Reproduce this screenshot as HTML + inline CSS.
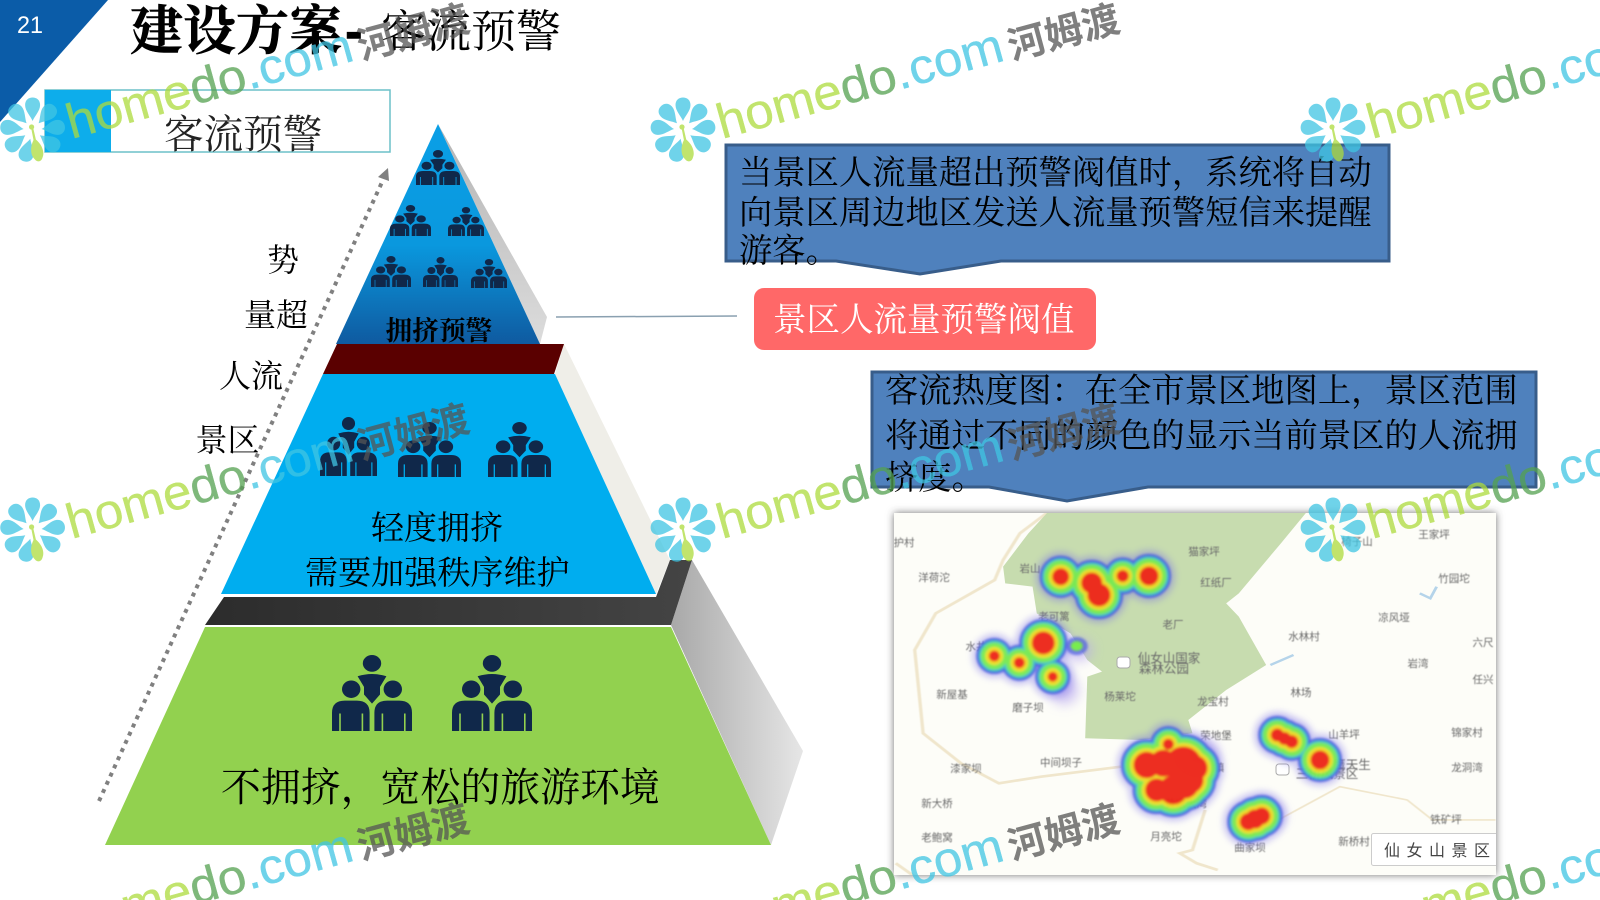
<!DOCTYPE html>
<html lang="zh"><head><meta charset="utf-8"><title>建设方案-客流预警</title>
<style>
html,body{margin:0;padding:0;background:#fff;width:1600px;height:900px;overflow:hidden}
svg{display:block;position:absolute;left:0;top:0}
.s{font-family:"Liberation Serif","Noto Serif CJK SC",serif;fill:#000}
.m{font-family:"Liberation Sans","Noto Sans CJK SC",sans-serif;font-size:10.5px;fill:#6a6a6a;text-anchor:middle}
.b{font-size:12.5px}
</style></head><body>
<svg width="1600" height="900" viewBox="0 0 1600 900" xmlns="http://www.w3.org/2000/svg">
<defs>
<linearGradient id="gTop" x1="0" y1="0" x2="0" y2="1"><stop offset="0" stop-color="#0a9fe6"/><stop offset=".55" stop-color="#0a98de"/><stop offset="1" stop-color="#0f5aa0"/></linearGradient>
<linearGradient id="gSh" x1="0" y1="0" x2="1" y2="0"><stop offset="0" stop-color="#a8a8a8"/><stop offset="1" stop-color="#e6e6e6"/></linearGradient>
<linearGradient id="gSh0" x1="0" y1="0" x2="0" y2="1"><stop offset="0" stop-color="#b4b4b4"/><stop offset="1" stop-color="#dcdcdc"/></linearGradient>
<linearGradient id="gDk" x1="0" y1="0" x2="1" y2="0"><stop offset="0" stop-color="#2c2c2c"/><stop offset="1" stop-color="#444"/></linearGradient>
<filter id="sh" x="-5%" y="-5%" width="110%" height="110%"><feDropShadow dx="0" dy="0" stdDeviation="4" flood-color="#444" flood-opacity=".75"/></filter>
<filter id="bl" x="-20%" y="-20%" width="140%" height="140%"><feGaussianBlur stdDeviation="1.3"/></filter>
<filter id="bl2" x="-20%" y="-20%" width="140%" height="140%"><feGaussianBlur stdDeviation="3.5"/></filter>
<filter id="bl3" x="-50%" y="-50%" width="200%" height="200%"><feGaussianBlur stdDeviation="6"/></filter>
<filter id="tb" x="-5%" y="-5%" width="110%" height="110%"><feGaussianBlur stdDeviation=".45"/></filter>
<filter id="rb" x="-5%" y="-5%" width="110%" height="110%"><feGaussianBlur stdDeviation="1"/></filter>
<symbol id="p" viewBox="0 0 100 100" preserveAspectRatio="none">
<g fill="#10284a">
<ellipse cx="50" cy="11" rx="11.5" ry="11"/>
<path d="M32 28Q50 22 68 28L60 42V52L50 64L40 52V42Z"/>
<ellipse cx="24" cy="45" rx="11.5" ry="11.5"/><ellipse cx="76" cy="45" rx="11.5" ry="11.5"/>
<path d="M0 100V76Q0 60 16 60H31Q47 60 47 76V100H39V77H37V100H11V77H9V100Z"/>
<path d="M53 100V76Q53 60 69 60H84Q100 60 100 76V100H92V77H90V100H64V77H62V100Z"/>
</g></symbol>
<g id="heat">
<circle cx="1060.7" cy="576.7" r="8"/><circle cx="1091.7" cy="583" r="10"/><circle cx="1099" cy="595" r="11"/><circle cx="1122.7" cy="576" r="5.5"/><circle cx="1149" cy="576" r="9"/>
<circle cx="1043.3" cy="643" r="11"/><circle cx="994.3" cy="656" r="5"/><circle cx="1019.3" cy="662.7" r="5"/><circle cx="1052.7" cy="676.7" r="4.5"/>
<circle cx="1168.3" cy="744.3" r="5"/><circle cx="1146.7" cy="765" r="12.7"/><circle cx="1163.3" cy="763.3" r="13"/><circle cx="1183.3" cy="765" r="18"/><circle cx="1195" cy="768" r="12"/><circle cx="1190" cy="780" r="13"/><circle cx="1185" cy="785" r="13"/><circle cx="1173.3" cy="790" r="14"/><circle cx="1156.7" cy="790" r="11"/>
<circle cx="1277.3" cy="735" r="6"/><circle cx="1284.5" cy="738.5" r="6"/><circle cx="1291.7" cy="741.7" r="6"/><circle cx="1320" cy="760" r="9"/>
<circle cx="1248.3" cy="821.7" r="8"/><circle cx="1255" cy="819" r="9"/><circle cx="1261.7" cy="816" r="8"/>
</g>
<g id="fl" opacity=".75">
<g fill="#40c5e3">
<path id="pt" d="M0-9C-2-14-7.5-19-7.5-25C-7.5-30-4-32.5 0-32.5C4-32.5 7.5-30 7.5-25C7.5-19 2-14 0-9Z"/>
<use href="#pt" transform="rotate(42)"/><use href="#pt" transform="rotate(84)"/><use href="#pt" transform="rotate(126)"/>
<use href="#pt" transform="rotate(-42)"/><use href="#pt" transform="rotate(-84)"/><use href="#pt" transform="rotate(-126)"/><use href="#pt" transform="rotate(-165)"/>
</g>
<g transform="rotate(-12)"><path d="M-1-3L1-3L1.2 10C6 16 7.5 24 4 29C2 33-2 33-4 29C-7.5 24-6 16-1.2 10Z" fill="#addb3d"/></g>
<circle cx="-1" cy="-3" r="2.6" fill="#addb3d"/>
</g>
<g id="wt" opacity=".75">
<text transform="translate(39,9) rotate(-15.5)" font-family="Liberation Sans,sans-serif" font-size="49" stroke-width=".4" textLength="295" lengthAdjust="spacingAndGlyphs"><tspan fill="#addb3d" stroke="#addb3d">home</tspan><tspan fill="#54a150" stroke="#54a150">do</tspan><tspan fill="#40c5e3" stroke="#40c5e3">.com</tspan></text>
<text transform="translate(329,-70) rotate(-15)" font-family="Liberation Sans,'Noto Sans CJK SC',sans-serif" font-weight="700" font-size="38" fill="#555">河姆渡</text>
</g>
</defs>

<rect width="1600" height="900" fill="#fff"/>
<polygon points="0,0 108,0 0,122" fill="#0b5ca8"/>
<text x="17" y="33" font-family="Liberation Sans,sans-serif" font-size="24" fill="#fff" textLength="26" lengthAdjust="spacingAndGlyphs">21</text>
<text class="s" x="130" y="49" font-size="53" font-weight="700" stroke="#000" stroke-width=".6">建设方案<tspan font-family="Liberation Sans,sans-serif" dx="3">-</tspan></text>
<text class="s" x="381" y="47" font-size="45">客流预警</text>

<rect x="45" y="90" width="345" height="62" fill="#fff" stroke="#6cc0c8" stroke-width="1.5"/>
<rect x="45" y="90" width="66" height="62" fill="#0dadeb"/>
<text class="s" x="164" y="148" font-size="39.6" style="fill:#222">客流预警</text>

<!-- pyramid shadows -->
<polygon points="438,124 547,317 540,344" fill="url(#gSh0)"/>
<polygon points="564,344 670,560 656,594 555,374" fill="#efeee8"/>
<polygon points="692,560 803,751 771,845 671,625" fill="url(#gSh)"/>
<!-- pyramid -->
<polygon points="438,124 540,344 336,344" fill="url(#gTop)"/>
<polygon points="337,344 564,344 554,374 323,374" fill="#5a0000"/>
<polygon points="323,374 555,374 656,594 221,594" fill="#00adef"/>
<polygon points="224,597 656,597 670,560 692,560 671,625 205,625" fill="url(#gDk)"/>
<polygon points="205,627 671,627 771,845 105,845" fill="#92d14f"/>

<!-- people -->
<use href="#p" x="416" y="150" width="44" height="35"/>
<use href="#p" x="390" y="205" width="41" height="31"/>
<use href="#p" x="448" y="207" width="36" height="29"/>
<use href="#p" x="371" y="256" width="40" height="31"/>
<use href="#p" x="423" y="257" width="35" height="30"/>
<use href="#p" x="471" y="259" width="36" height="29"/>
<use href="#p" x="320" y="417" width="57" height="59"/>
<use href="#p" x="398" y="422" width="63" height="55"/>
<use href="#p" x="488" y="422" width="63" height="55"/>
<use href="#p" x="332" y="655" width="80" height="76"/>
<use href="#p" x="452" y="655" width="80" height="76"/>

<!-- pyramid labels -->
<text class="s" x="385.5" y="340" font-size="26.7" font-weight="700">拥挤预警</text>
<text class="s" x="371" y="539" font-size="33">轻度拥挤</text>
<text class="s" x="305" y="584" font-size="33.1">需要加强秩序维护</text>
<text class="s" x="221" y="801" font-size="39.9">不拥挤，宽松的旅游环境</text>
<text class="s" x="267" y="271" font-size="32">势</text>
<text class="s" x="244" y="326" font-size="32">量超</text>
<text class="s" x="219" y="387" font-size="32">人流</text>
<text class="s" x="195.5" y="451" font-size="32">景区</text>

<!-- trend arrow -->
<line x1="99" y1="801" x2="383" y2="180" stroke="#808080" stroke-width="4" stroke-dasharray="4 5"/>
<polygon points="388,168 389,181 378,177" fill="#808080"/>
<line x1="556" y1="317" x2="737" y2="316" stroke="#8aa0b0" stroke-width="1.5"/>

<!-- callouts -->
<polygon points="726,145 1389,145 1389,261 1001,261 920,274 836,261 726,261" fill="#4f81bd" stroke="#385d8a" stroke-width="3"/>
<text class="s" x="739" y="184" font-size="33.3">当景区人流量超出预警阀值时，系统将自动</text>
<text class="s" x="739" y="224" font-size="33.3">向景区周边地区发送人流量预警短信来提醒</text>
<text class="s" x="739" y="262" font-size="33.3">游客。</text>

<rect x="754" y="288" width="342" height="62" rx="10" fill="#ff6868"/>
<text class="s" x="773" y="331" font-size="33.5" style="fill:#fff">景区人流量预警阀值</text>

<polygon points="872,372 1536,372 1536,487 1148,487 1067,501 989,487 872,487" fill="#4f81bd" stroke="#385d8a" stroke-width="3"/>
<text class="s" x="885" y="402" font-size="33.3">客流热度图：在全市景区地图上，景区范围</text>
<text class="s" x="885" y="447" font-size="33.3">将通过不同的颜色的显示当前景区的人流拥</text>
<text class="s" x="885" y="489" font-size="33.3">挤度。</text>

<!-- map -->
<rect x="894" y="513" width="602" height="362" fill="#fdfdf8" filter="url(#sh)"/>
<svg x="894" y="513" width="602" height="362" viewBox="894 513 602 362">
<g transform="translate(860,500) scale(.4209,.3333)">
<g fill="none" stroke="#f0e6cc" stroke-width="8" filter="url(#rb)">
<path d="M445 38L380 100L340 180L320 240L180 340L130 450L150 700L240 790L330 850L430 830L620 800"/>
<path d="M820 930L790 1050L760 1060L800 1090L850 1110"/>
<path d="M950 990L1140 860L1300 900L1360 960L1510 960" stroke-width="5"/>
<path d="M85 1090L130 1130"/>
</g>
<polygon points="445,38 1060,38 1000,130 900,280 870,310 900,350 965,495 870,570 780,660 790,700 670,720 535,715 540,530 575,515 540,480 500,400 420,340 410,260 345,250 340,200 400,100" fill="#c7dcaf"/>
<g fill="none" stroke="#b5d4ea" stroke-width="7" filter="url(#tb)"><path d="M1330 280L1355 295L1370 260"/><path d="M975 495L1030 465"/></g>
</g>
<g filter="url(#tb)">
<text class="m" x="904" y="546">护村</text><text class="m" x="934" y="581">洋荷沱</text><text class="m" x="1030" y="572">岩山</text>
<text class="m" x="1204" y="555">猫家坪</text><text class="m" x="1216" y="586">红纸厂</text><text class="m" x="1434" y="538">王家坪</text>
<text class="m" x="1357" y="545">椅子山</text><text class="m" x="1454" y="582">竹园坨</text><text class="m" x="1054" y="620">老可篱</text>
<text class="m" x="1173" y="628">老厂</text><text class="m" x="1394" y="621">凉风垭</text><text class="m" x="1304" y="640">水林村</text>
<text class="m" x="1483" y="646">六尺</text><text class="m" x="976" y="650">水井</text>
<text class="m b" x="1169" y="662.5">仙女山国家</text><text class="m b" x="1164" y="673">森林公园</text>
<text class="m" x="1418" y="667">岩湾</text><text class="m" x="1483" y="683">任兴</text><text class="m" x="952" y="698">新屋基</text>
<text class="m" x="1120" y="700">杨莱坨</text><text class="m" x="1301" y="696">林场</text><text class="m" x="1213" y="705">龙宝村</text>
<text class="m" x="1028" y="711">磨子坝</text><text class="m" x="1216" y="739">荣地堡</text><text class="m" x="1344" y="738">山羊坪</text>
<text class="m" x="1467" y="736">锦家村</text><text class="m" x="1061" y="766">中间坝子</text><text class="m" x="966" y="772">漆家坝</text>
<text class="m" x="1467" y="771">龙洞湾</text><text class="m b" x="1352" y="769">鹰天生</text><text class="m b" x="1327" y="778">三桥风景区</text>
<text class="m" x="1219" y="771">镇</text><text class="m" x="1186" y="807">黄家大湾</text><text class="m" x="937" y="807">新大桥</text>
<text class="m" x="937" y="841">老鲍窝</text><text class="m" x="1166" y="840">月亮坨</text><text class="m" x="1250" y="851">曲家坝</text>
<text class="m" x="1446" y="823">铁矿坪</text><text class="m" x="1354" y="845">新桥村</text>
</g>
<rect x="1117" y="657" width="13" height="11" rx="3" fill="#fff" stroke="#aaa"/>
<rect x="1276" y="764" width="13" height="11" rx="3" fill="#fff" stroke="#aaa"/>
<!-- heat -->
<g filter="url(#bl3)" fill="#b8a8f0" opacity=".7">
<ellipse cx="1078" cy="650" rx="14" ry="11"/><ellipse cx="1064" cy="690" rx="14" ry="14"/><ellipse cx="1202" cy="752" rx="16" ry="13"/><ellipse cx="1262" cy="815" rx="22" ry="12"/><ellipse cx="1284" cy="735" rx="20" ry="14"/>
</g>
<g filter="url(#bl2)" opacity=".4"><use href="#heat" fill="#7a70e8" stroke="#7a70e8" stroke-width="34"/></g>
<g filter="url(#bl)" opacity=".95">
<use href="#heat" fill="#4a5ce0" stroke="#4a5ce0" stroke-width="26"/>
<use href="#heat" fill="#3cc8c0" stroke="#3cc8c0" stroke-width="21"/>
<use href="#heat" fill="#78ec50" stroke="#78ec50" stroke-width="17"/>
<use href="#heat" fill="#f0e020" stroke="#f0e020" stroke-width="8"/>
<use href="#heat" fill="#f02818" stroke="#f02818" stroke-width="1"/>
</g>
<ellipse cx="1076.7" cy="646" rx="11" ry="9" fill="#4a5ce0" opacity=".7" filter="url(#bl)"/>
<ellipse cx="1076.7" cy="646" rx="6" ry="5" fill="#78ec50" filter="url(#bl)"/>
<rect x="1371.5" y="833.5" width="130" height="32" rx="2" fill="#fff" stroke="#ccc"/>
<text x="1384" y="856" font-family="Liberation Sans,'Noto Sans CJK SC',sans-serif" font-size="16" letter-spacing="6.5" fill="#444">仙女山景区</text>
</svg>

<!-- watermark -->
<use href="#fl" x="32.6" y="130"/><use href="#fl" x="683" y="130"/><use href="#fl" x="1333" y="130"/>
<use href="#fl" x="32.6" y="530"/><use href="#fl" x="683" y="530"/><use href="#fl" x="1333" y="530"/>
<use href="#wt" x="32.6" y="130"/><use href="#wt" x="683" y="130"/><use href="#wt" x="1333" y="130"/>
<use href="#wt" x="32.6" y="530"/><use href="#wt" x="683" y="530"/><use href="#wt" x="1333" y="530"/>
<use href="#wt" x="32.6" y="930"/><use href="#wt" x="683" y="930"/><use href="#wt" x="1333" y="930"/>
</svg>
</body></html>
